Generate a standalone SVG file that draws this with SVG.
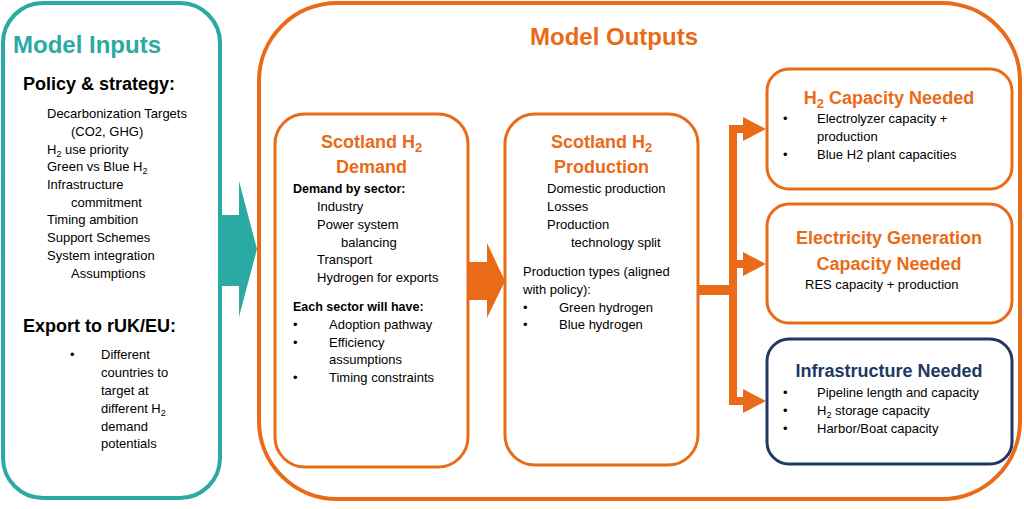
<svg xmlns="http://www.w3.org/2000/svg" width="1024" height="509" viewBox="0 0 1024 509">
<style>
text{font-family:"Liberation Sans",Arial,sans-serif;fill:#000}
.t{font-size:13px}
.hb{font-size:18px;font-weight:bold}
.sb{font-size:12.5px;font-weight:bold}
.big{font-size:24px;font-weight:bold}
.or{fill:#E96A17}
.te{fill:#2BA9A3}
.nv{fill:#203864}
.sub{font-size:9px}
.subh{font-size:13px}
.box-o{fill:#fff;stroke:#E96A17;stroke-width:3}
</style>
<rect width="1024" height="509" fill="#fff"/>

<g id="model-inputs">
<rect x="3" y="3" width="217" height="495" rx="40" fill="#fff" stroke="#2BA9A3" stroke-width="4"/>
<text x="13" y="53" class="big te">Model Inputs</text>
<text x="23" y="90" class="hb">Policy &amp; strategy:</text>
<text class="t">
<tspan x="47" y="118">Decarbonization Targets</tspan>
<tspan x="71" y="136">(CO2, GHG)</tspan>
<tspan x="47" y="154">H<tspan class="sub" dy="3">2</tspan><tspan dy="-3"> use priority</tspan></tspan>
<tspan x="47" y="171">Green vs Blue H<tspan class="sub" dy="3">2</tspan></tspan>
<tspan x="47" y="189">Infrastructure</tspan>
<tspan x="71" y="207">commitment</tspan>
<tspan x="47" y="224">Timing ambition</tspan>
<tspan x="47" y="242">Support Schemes</tspan>
<tspan x="47" y="260">System integration</tspan>
<tspan x="71" y="278">Assumptions</tspan>
</text>
<text x="23" y="332" class="hb">Export to rUK/EU:</text>
<text class="t">
<tspan x="70" y="359">•</tspan>
<tspan x="101" y="359">Different</tspan>
<tspan x="101" y="377">countries to</tspan>
<tspan x="101" y="395">target at</tspan>
<tspan x="101" y="413">different H<tspan class="sub" dy="3">2</tspan></tspan>
<tspan x="101" y="431">demand</tspan>
<tspan x="101" y="448">potentials</tspan>
</text>
</g>

<g id="model-outputs">
<rect x="259" y="3" width="761" height="496" rx="78" fill="#fff" stroke="#E96A17" stroke-width="4"/>
<text x="614" y="45" class="big or" text-anchor="middle">Model Outputs</text>
</g>

<g id="scotland-demand">
<rect x="275" y="114" width="193" height="353" rx="30" class="box-o"/>
<text x="371.5" y="148" class="hb or" text-anchor="middle">Scotland H<tspan class="subh" dy="4">2</tspan></text>
<text x="371.5" y="173" class="hb or" text-anchor="middle">Demand</text>
<text x="293" y="193" class="sb">Demand by sector:</text>
<text class="t">
<tspan x="317" y="211">Industry</tspan>
<tspan x="317" y="229">Power system</tspan>
<tspan x="341" y="247">balancing</tspan>
<tspan x="317" y="264">Transport</tspan>
<tspan x="317" y="282">Hydrogen for exports</tspan>
</text>
<text x="293" y="311" class="sb">Each sector will have:</text>
<text class="t">
<tspan x="293" y="329">•</tspan><tspan x="329" y="329">Adoption pathway</tspan>
<tspan x="293" y="347">•</tspan><tspan x="329" y="347">Efficiency</tspan>
<tspan x="329" y="364">assumptions</tspan>
<tspan x="293" y="382">•</tspan><tspan x="329" y="382">Timing constraints</tspan>
</text>
</g>

<g id="scotland-production">
<rect x="505" y="114" width="193" height="351" rx="30" class="box-o"/>
<text x="601.5" y="148" class="hb or" text-anchor="middle">Scotland H<tspan class="subh" dy="4">2</tspan></text>
<text x="601.5" y="173" class="hb or" text-anchor="middle">Production</text>
<text class="t">
<tspan x="547" y="193">Domestic production</tspan>
<tspan x="547" y="211">Losses</tspan>
<tspan x="547" y="229">Production</tspan>
<tspan x="571" y="247">technology split</tspan>
<tspan x="523" y="276">Production types (aligned</tspan>
<tspan x="523" y="294">with policy):</tspan>
<tspan x="523" y="312">•</tspan><tspan x="559" y="312">Green hydrogen</tspan>
<tspan x="523" y="329">•</tspan><tspan x="559" y="329">Blue hydrogen</tspan>
</text>
</g>

<g id="h2-capacity">
<rect x="767" y="69" width="245" height="120" rx="22" class="box-o"/>
<text x="889" y="104" class="hb or" text-anchor="middle">H<tspan class="subh" dy="4">2</tspan><tspan dy="-4"> Capacity Needed</tspan></text>
<text class="t">
<tspan x="783" y="123">•</tspan><tspan x="817" y="123">Electrolyzer capacity +</tspan>
<tspan x="817" y="141">production</tspan>
<tspan x="783" y="159">•</tspan><tspan x="817" y="159">Blue H2 plant capacities</tspan>
</text>
</g>

<g id="electricity-capacity">
<rect x="767" y="204" width="245" height="119" rx="22" class="box-o"/>
<text x="889" y="244" class="hb or" text-anchor="middle">Electricity Generation</text>
<text x="889" y="270" class="hb or" text-anchor="middle">Capacity Needed</text>
<text x="805" y="289" class="t">RES capacity + production</text>
</g>

<g id="infrastructure">
<rect x="767" y="339" width="245" height="125" rx="22" fill="#fff" stroke="#203864" stroke-width="3"/>
<text x="889" y="377" class="hb nv" text-anchor="middle">Infrastructure Needed</text>
<text class="t">
<tspan x="783" y="397">•</tspan><tspan x="817" y="397">Pipeline length and capacity</tspan>
<tspan x="783" y="415">•</tspan><tspan x="817" y="415">H<tspan class="sub" dy="3">2</tspan><tspan dy="-3"> storage capacity</tspan></tspan>
<tspan x="783" y="433">•</tspan><tspan x="817" y="433">Harbor/Boat capacity</tspan>
</text>
</g>

<g id="connectors">
<polygon points="220,215 239,215 239,181 257,249 239,317 239,286 220,286" fill="#2BA9A3"/>
<polygon points="468,262 487,262 487,243 505,281 487,318 487,300 468,300" fill="#E96A17"/>
<path d="M698 290 H733" stroke="#E96A17" stroke-width="10" fill="none"/>
<path d="M746 129 H733 V401 H746 M733 264 H746" stroke="#E96A17" stroke-width="8" fill="none" stroke-linejoin="miter"/>
<polygon points="743,117 766,129 743,141" fill="#E96A17"/>
<polygon points="743,252 766,264 743,276" fill="#E96A17"/>
<polygon points="743,389 766,401 743,413" fill="#E96A17"/>
</g>
</svg>
